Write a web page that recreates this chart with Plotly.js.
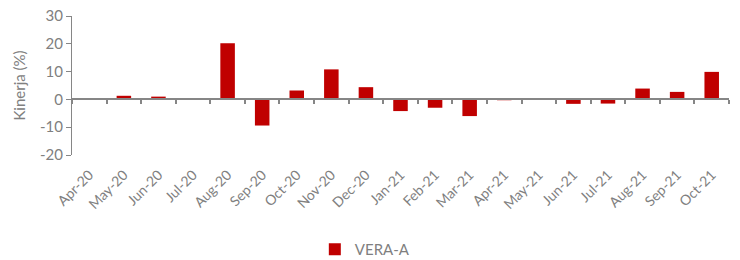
<!DOCTYPE html>
<html><head><meta charset="utf-8">
<script src="https://cdn.plot.ly/plotly-3.0.1.min.js"></script>
<style>body{margin:0;background:#fff}#c{width:740px;height:260px}</style>
</head><body><div id="c"></div>
<script>
const categories = ["Apr-20","May-20","Jun-20","Jul-20","Aug-20","Sep-20","Oct-20","Nov-20","Dec-20","Jan-21","Feb-21","Mar-21","Apr-21","May-21","Jun-21","Jul-21","Aug-21","Sep-21","Oct-21"];
const veraA = [0, 1.3, 1.0, 0.3, 20.2, -9.4, 3.2, 10.8, 4.4, -4.2, -3.0, -6.0, -0.3, 0, -1.6, -1.5, 3.9, 2.7, 9.9];
const seriesName = "VERA-A";
const yTicks = [-20, -10, 0, 10, 20, 30];
const yTickLabels = ["-20", "-10", "0", "10", "20", "30"];

const grey = "#868686";
const font = {family: "Lato, 'Open Sans', sans-serif", color: "#7f7f7f", size: 13};
const n = categories.length;
const boundaries = Array.from({length: n + 1}, (_, i) => i - 0.5);

const data = [
  {type: "bar", x: categories, y: veraA, name: seriesName, marker: {color: "#c00000"}, xaxis: "x", yaxis: "y"},
  {type: "scatter", x: [], y: [], xaxis: "x2", yaxis: "y", showlegend: false, hoverinfo: "skip"}
];

const layout = {
  width: 740, height: 260,
  margin: {l: 72, r: 11, t: 16, b: 105, autoexpand: false},
  paper_bgcolor: "#fff", plot_bgcolor: "#fff",
  font: font,
  bargap: 0.58,
  showlegend: true,
  legend: {orientation: "h", x: 0.493, xref: "container", xanchor: "center", y: 0.04, yref: "container", yanchor: "middle",
           font: {size: 15, color: "#7f7f7f"}, itemwidth: 30},
  xaxis: {
    type: "category", range: [-0.5, n - 0.5], showline: false, showgrid: false, zeroline: false,
    ticks: "", tickangle: -45, tickfont: {size: 14, color: "#808080"}, fixedrange: true, automargin: false,
    ticklabelstandoff: 8
  },
  xaxis2: {
    overlaying: "x", anchor: "free", position: 0.4, range: [-0.5, n - 0.5],
    showline: true, linecolor: grey, linewidth: 2, showgrid: false, zeroline: false,
    tickmode: "array", tickvals: boundaries, ticks: "outside", ticklen: 4, tickcolor: grey, tickwidth: 2,
    showticklabels: false, side: "bottom"
  },
  yaxis: {
    range: [-20, 30], tickmode: "array", tickvals: yTicks, ticktext: yTickLabels, showgrid: false, zeroline: false,
    showline: true, linecolor: grey, linewidth: 1, ticks: "outside", ticklen: 5, tickcolor: grey,
    tickfont: {size: 15, color: "#808080"}, automargin: false,
    title: {text: "Kinerja (%)", font: {size: 15, color: "#808080"}, standoff: 10}
  }
};
Plotly.newPlot("c", data, layout, {displayModeBar: false, staticPlot: true});
</script></body></html>
